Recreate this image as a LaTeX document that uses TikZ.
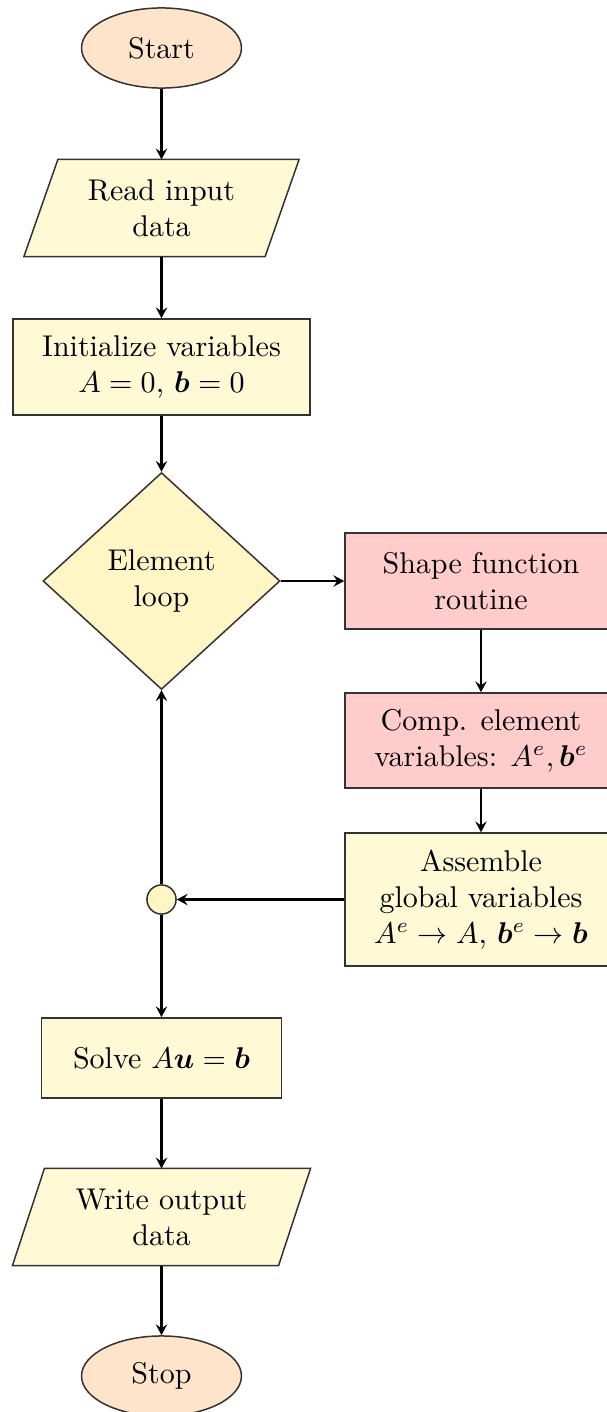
\documentclass[tikz,border=0pt]{standalone}
\usepackage{amsmath,bm}
\usetikzlibrary{shapes.geometric,arrows.meta,backgrounds,calc}
\definecolor{peach}{RGB}{255,228,204}
\definecolor{lightyel}{RGB}{255,250,214}
\definecolor{diayel}{RGB}{255,245,197}
\definecolor{pinkred}{RGB}{255,204,204}
\tikzset{
 base/.style={draw=black!80, line width=0.5pt, align=center, inner sep=2pt},
 term/.style={base, ellipse, fill=peach, minimum width=53.3pt, minimum height=26.7pt},
 proc/.style={base, rectangle, fill=lightyel, minimum height=32pt},
 sub/.style={base, rectangle, fill=pinkred, minimum width=90.7pt, minimum height=32pt},
 dec/.style={base, diamond, fill=diayel, minimum width=79pt, minimum height=72.3pt, inner sep=0pt},
 iotext/.style={align=center, minimum height=32pt, inner sep=0pt},
 iobox/.style={draw=black!80, line width=0.5pt, fill=lightyel},
 junction/.style={base, circle, fill=diayel, minimum size=9.7pt, inner sep=0pt},
 flow/.style={line width=0.7pt, -{Stealth[length=3.6pt,width=3.8pt,inset=1.3pt]}},
}
\begin{document}
\begin{tikzpicture}[x=0.33333pt,y=-0.33333pt]
\useasboundingbox (0,0) rectangle (607,1412);
\node[term] (start) at (161.5,48) {Start};
\node[iotext, minimum width=80pt] (read) at (161.5,208) {Read input\\data};
\node[proc, minimum width=99pt] (init) at (161.5,367) {Initialize variables\\$A=0$, $\bm{b}=0$};
\node[dec] (loop) at (161.5,581) {Element\\loop};
\node[sub] (shp) at (481,581) {Shape function\\routine};
\node[sub, minimum height=31.7pt] (comp) at (481,740.5) {Comp. element\\variables: $A^e, \bm{b}^e$};
\node[proc, minimum width=90.7pt, minimum height=44.3pt] (asm) at (481,899.5) {Assemble\\global variables\\$A^e\to A$, $\bm{b}^e\to\bm{b}$};
\node[junction] (junc) at (161.5,899.5) {};
\node[proc, minimum width=80pt, minimum height=26.7pt] (solve) at (161.5,1058) {Solve $A\bm{u}=\bm{b}$};
\node[iotext, minimum width=88.3pt] (write) at (161.5,1217) {Write output\\data};
\node[term] (stop) at (161.5,1376) {Stop};
\begin{scope}[on background layer]
\draw[iobox] ($(read.north west)+(17,0)$) -- ($(read.north east)+(17,0)$) -- ($(read.south east)+(-17,0)$) -- ($(read.south west)+(-17,0)$) -- cycle;
\draw[iobox] ($(write.north west)+(16,0)$) -- ($(write.north east)+(16,0)$) -- ($(write.south east)+(-16,0)$) -- ($(write.south west)+(-16,0)$) -- cycle;
\end{scope}
\draw[flow] (start) -- (read);
\draw[flow] (read) -- (init);
\draw[flow] (init) -- (loop);
\draw[flow] (loop.east) -- (shp.west);
\draw[flow] (shp) -- (comp);
\draw[flow] (comp) -- (asm);
\draw[flow] (asm.west) -- (junc.east);
\draw[flow] (junc) -- (loop.south);
\draw[flow] (junc) -- (solve);
\draw[flow] (solve) -- (write);
\draw[flow] (write) -- (stop);
\end{tikzpicture}
\end{document}
